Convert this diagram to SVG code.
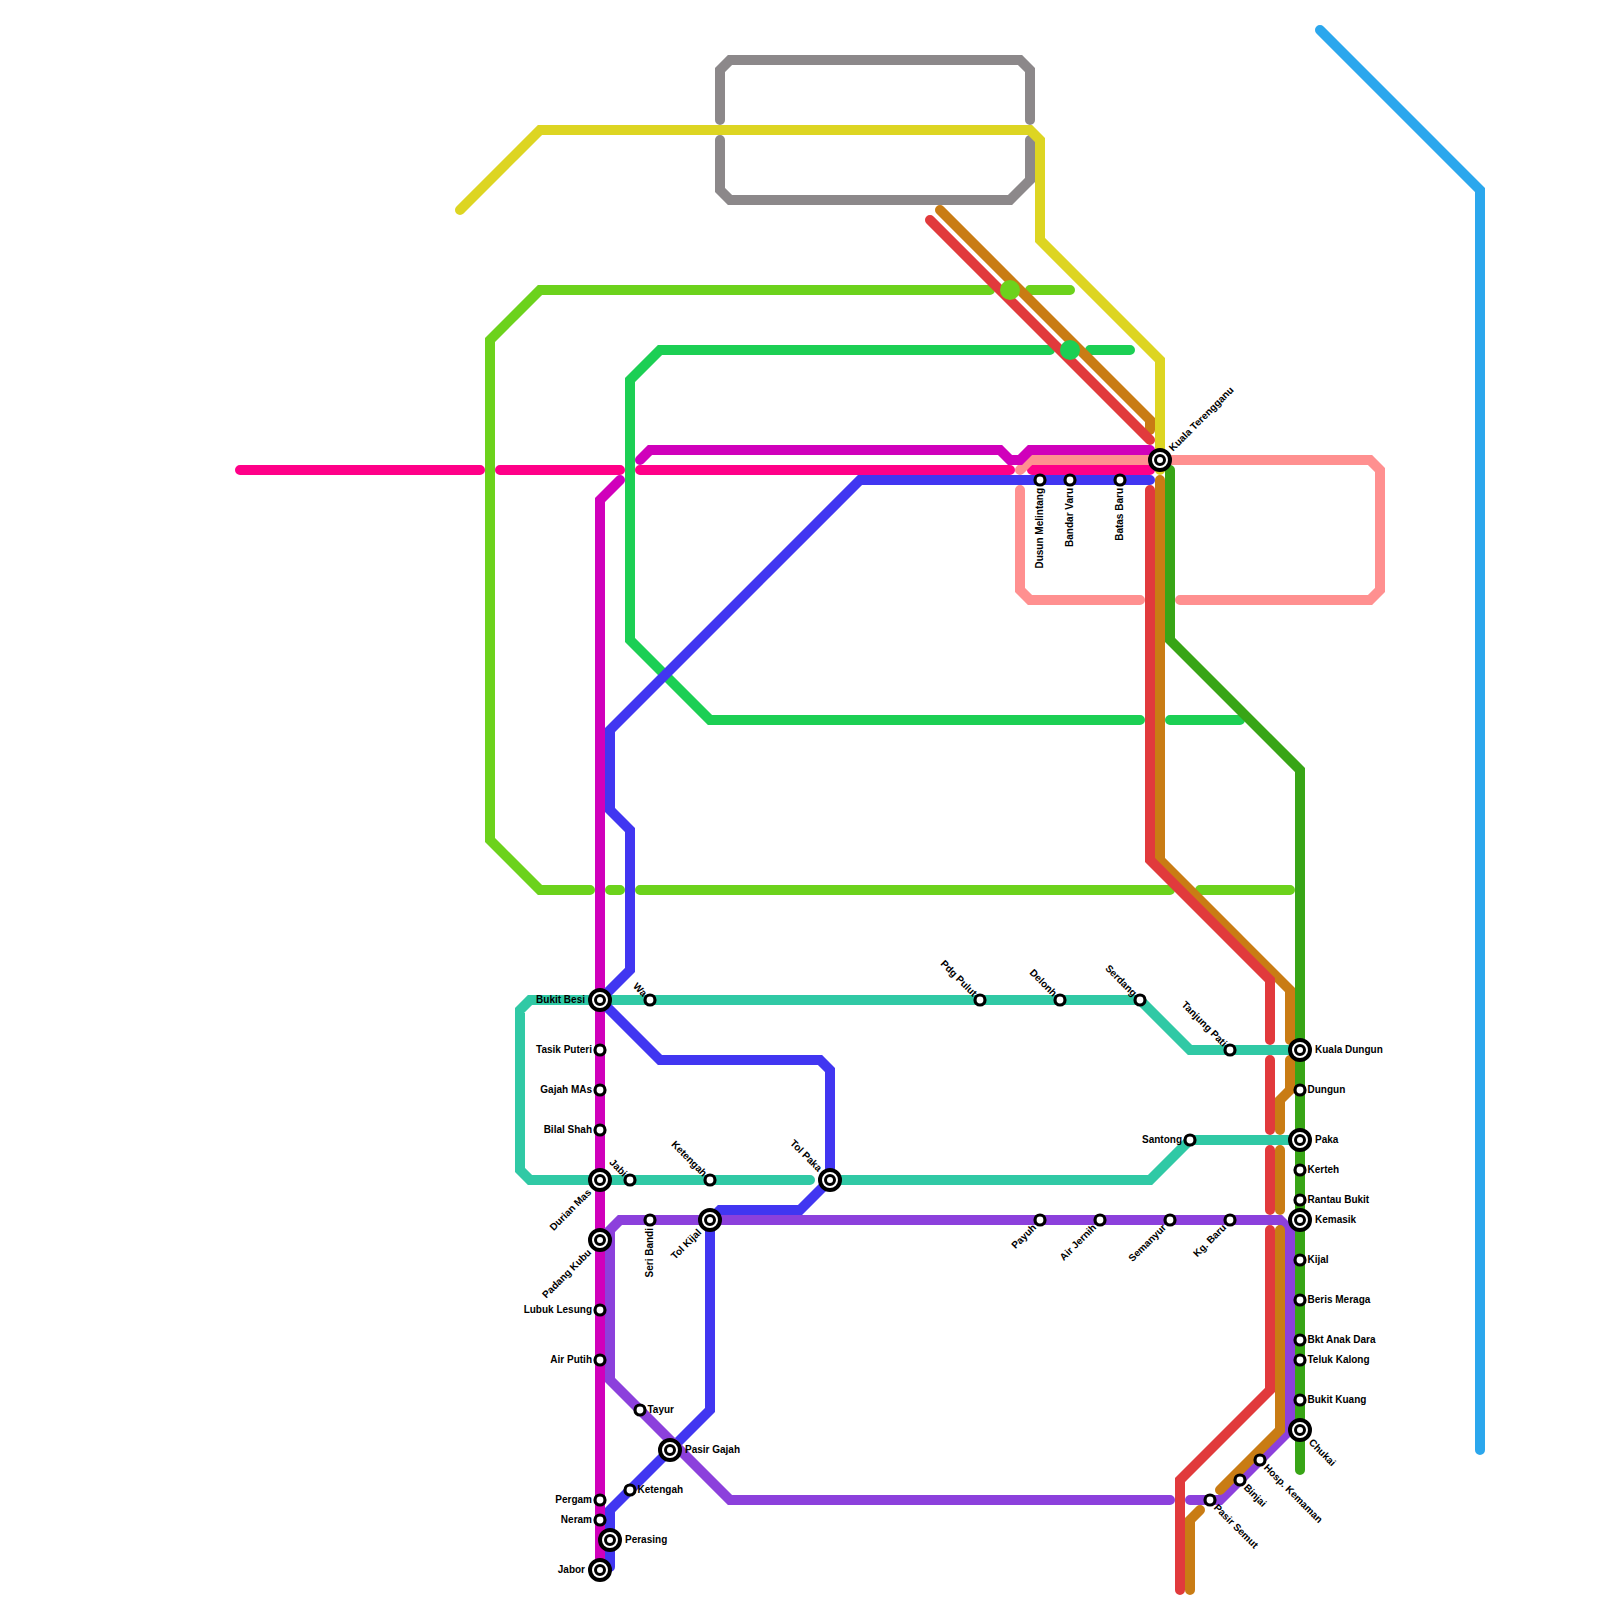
<svg xmlns="http://www.w3.org/2000/svg" width="1600" height="1600" viewBox="0 0 1600 1600">
<style>
.l{fill:none;stroke-width:10;stroke-linecap:round;stroke-linejoin:miter}
.ring1{fill:#fff;stroke:#000;stroke-width:4}
.ring2{fill:#fff;stroke:#000;stroke-width:3}
.small{fill:#fff;stroke:#000;stroke-width:3.2}
text{font-family:"Liberation Sans",Arial,sans-serif;font-size:10px;font-weight:bold;fill:#000}
.e{text-anchor:end}
</style>
<rect width="1600" height="1600" fill="#fff"/>
<g id="connectors">
<path class="l" stroke="#2ba7ed" d="M1320 30L1480 190V1450"/>
<path class="l" stroke="#8c888a" d="M720 120V70L730 60H1020L1030 70V120M720 140V190L730 200H1010L1030 180V140"/>
<path class="l" stroke="#30c9a5" d="M810 1180H530L520 1170V1010L530 1000H1140L1190 1050H1300M830 1180H1150L1190 1140H1300"/>
<path class="l" stroke="#ddd522" d="M460 210L540 130H1030L1040 140V240L1160 360V470"/>
<path class="l" stroke="#6cd21c" d="M990 290H540L490 340V840L540 890H590M610 890H620M640 890H1170M1200 890H1290M1030 290H1070"/>
<path class="l" stroke="#1ccf54" d="M1050 350H660L630 380V640L710 720H1140M1170 720H1240M1090 350H1130"/>
<path class="l" stroke="#ff0088" d="M240 470H480M500 470H620M640 470H1010M1032 470H1150"/>
<path class="l" stroke="#ff9090" d="M1020 470L1030 460H1150M1170 460H1370L1380 470V590L1370 600H1180M1020 490V590L1030 600H1140"/>
<path class="l" stroke="#d000bb" d="M620 480L600 500V1570M640 460L650 450H1000L1010 460H1020L1030 450H1150"/>
<path class="l" stroke="#4136f1" d="M1150 480H860L610 730V810L630 830V970L600 1000L660 1060H820L830 1070V1180L800 1210H720L710 1220V1410L610 1510V1567"/>
<path class="l" stroke="#8c40dc" d="M600 1240L610 1230L620 1220H1280L1290 1230V1430L1220 1500H1190M1170 1500H730L610 1380V1230"/>
<path class="l" stroke="#38a516" d="M1170 470V640L1300 770V1470"/>
<path class="l" stroke="#c97c14" d="M940 210L1150 420V430M1160 480V860L1290 990V1040M1290 1060V1090L1280 1100V1130M1280 1150V1210M1280 1230V1430L1220 1490M1190 1590V1520L1200 1510"/>
<path class="l" stroke="#e13a3c" d="M930 220L1150 440M1150 490V860L1270 980V1040M1270 1060V1130M1270 1150V1210M1270 1230V1390L1180 1480V1590"/>
<circle cx="1010" cy="290" r="10" fill="#6cd21c"/>
<circle cx="1070" cy="350" r="10" fill="#1ccf54"/>
</g>
<g id="kuala-terengganu" transform="translate(1160 460)"><circle class="ring1" r="10"/><circle class="ring2" r="4.5"/><text x="15" y="3.5" transform="rotate(-45)">Kuala Terengganu</text></g>
<g id="dusun-melintang" transform="translate(1040 480)"><circle class="small" r="5"/><text class="e" x="-8" y="3" transform="rotate(-90)">Dusun Melintang</text></g>
<g id="bandar-varu" transform="translate(1070 480)"><circle class="small" r="5"/><text class="e" x="-8" y="3" transform="rotate(-90)">Bandar Varu</text></g>
<g id="batas-baru" transform="translate(1120 480)"><circle class="small" r="5"/><text class="e" x="-8" y="3" transform="rotate(-90)">Batas Baru</text></g>
<g id="bukit-besi" transform="translate(600 1000)"><circle class="ring1" r="10"/><circle class="ring2" r="4.5"/><text class="e" x="-15" y="3">Bukit Besi</text></g>
<g id="tasik-puteri" transform="translate(600 1050)"><circle class="small" r="5"/><text class="e" x="-8" y="3">Tasik Puteri</text></g>
<g id="gajah-mas" transform="translate(600 1090)"><circle class="small" r="5"/><text class="e" x="-8" y="3">Gajah MAs</text></g>
<g id="bilal-shah" transform="translate(600 1130)"><circle class="small" r="5"/><text class="e" x="-8" y="3">Bilal Shah</text></g>
<g id="durian-mas" transform="translate(600 1180)"><circle class="ring1" r="10"/><circle class="ring2" r="4.5"/><text class="e" x="-15" y="3.5" transform="rotate(-45)">Durian Mas</text></g>
<g id="padang-kubu" transform="translate(600 1240)"><circle class="ring1" r="10"/><circle class="ring2" r="4.5"/><text class="e" x="-15" y="3.5" transform="rotate(-45)">Padang Kubu</text></g>
<g id="lubuk-lesung" transform="translate(600 1310)"><circle class="small" r="5"/><text class="e" x="-8" y="3">Lubuk Lesung</text></g>
<g id="air-putih" transform="translate(600 1360)"><circle class="small" r="5"/><text class="e" x="-8" y="3">Air Putih</text></g>
<g id="pergam" transform="translate(600 1500)"><circle class="small" r="5"/><text class="e" x="-8" y="3">Pergam</text></g>
<g id="neram" transform="translate(600 1520)"><circle class="small" r="5"/><text class="e" x="-8" y="3">Neram</text></g>
<g id="perasing" transform="translate(610 1540)"><circle class="ring1" r="10"/><circle class="ring2" r="4.5"/><text x="15" y="3">Perasing</text></g>
<g id="jabor" transform="translate(600 1570)"><circle class="ring1" r="10"/><circle class="ring2" r="4.5"/><text class="e" x="-15" y="3">Jabor</text></g>
<g id="wa" transform="translate(650 1000)"><circle class="small" r="5"/><text class="e" x="-7" y="3" transform="rotate(45)">Wa</text></g>
<g id="jabi" transform="translate(630 1180)"><circle class="small" r="5"/><text class="e" x="-7" y="3" transform="rotate(45)">Jabi</text></g>
<g id="ketengah-a" transform="translate(710 1180)"><circle class="small" r="5"/><text class="e" x="-7" y="3" transform="rotate(45)">Ketengah</text></g>
<g id="tol-paka" transform="translate(830 1180)"><circle class="ring1" r="10"/><circle class="ring2" r="4.5"/><text class="e" x="-14" y="3" transform="rotate(45)">Tol Paka</text></g>
<g id="tol-kijal" transform="translate(710 1220)"><circle class="ring1" r="10"/><circle class="ring2" r="4.5"/><text class="e" x="-15" y="3.5" transform="rotate(-45)">Tol Kijal</text></g>
<g id="seri-bandi" transform="translate(650 1220)"><circle class="small" r="5"/><text class="e" x="-8" y="3" transform="rotate(-90)">Seri Bandi</text></g>
<g id="tayur" transform="translate(640 1410)"><circle class="small" r="5"/><text x="7.5" y="3">Tayur</text></g>
<g id="pasir-gajah" transform="translate(670 1450)"><circle class="ring1" r="10"/><circle class="ring2" r="4.5"/><text x="15" y="3">Pasir Gajah</text></g>
<g id="ketengah-b" transform="translate(630 1490)"><circle class="small" r="5"/><text x="7.5" y="3">Ketengah</text></g>
<g id="pdg-pulut" transform="translate(980 1000)"><circle class="small" r="5"/><text class="e" x="-7" y="3" transform="rotate(45)">Pdg Pulut</text></g>
<g id="delonh" transform="translate(1060 1000)"><circle class="small" r="5"/><text class="e" x="-7" y="3" transform="rotate(45)">Delonh</text></g>
<g id="serdang" transform="translate(1140 1000)"><circle class="small" r="5"/><text class="e" x="-7" y="3" transform="rotate(45)">Serdang</text></g>
<g id="tanjung-pati" transform="translate(1230 1050)"><circle class="small" r="5"/><text class="e" x="-7" y="3" transform="rotate(45)">Tanjung Pati</text></g>
<g id="santong" transform="translate(1190 1140)"><circle class="small" r="5"/><text class="e" x="-8" y="3">Santong</text></g>
<g id="payuh" transform="translate(1040 1220)"><circle class="small" r="5"/><text class="e" x="-8" y="3.5" transform="rotate(-45)">Payuh</text></g>
<g id="air-jernih" transform="translate(1100 1220)"><circle class="small" r="5"/><text class="e" x="-8" y="3.5" transform="rotate(-45)">Air Jernih</text></g>
<g id="semanyur" transform="translate(1170 1220)"><circle class="small" r="5"/><text class="e" x="-8" y="3.5" transform="rotate(-45)">Semanyur</text></g>
<g id="kg-baru" transform="translate(1230 1220)"><circle class="small" r="5"/><text class="e" x="-8" y="3.5" transform="rotate(-45)">Kg. Baru</text></g>
<g id="kuala-dungun" transform="translate(1300 1050)"><circle class="ring1" r="10"/><circle class="ring2" r="4.5"/><text x="15" y="3">Kuala Dungun</text></g>
<g id="dungun" transform="translate(1300 1090)"><circle class="small" r="5"/><text x="7.5" y="3">Dungun</text></g>
<g id="paka" transform="translate(1300 1140)"><circle class="ring1" r="10"/><circle class="ring2" r="4.5"/><text x="15" y="3">Paka</text></g>
<g id="kerteh" transform="translate(1300 1170)"><circle class="small" r="5"/><text x="7.5" y="3">Kerteh</text></g>
<g id="rantau-bukit" transform="translate(1300 1200)"><circle class="small" r="5"/><text x="7.5" y="3">Rantau Bukit</text></g>
<g id="kemasik" transform="translate(1300 1220)"><circle class="ring1" r="10"/><circle class="ring2" r="4.5"/><text x="15" y="3">Kemasik</text></g>
<g id="kijal" transform="translate(1300 1260)"><circle class="small" r="5"/><text x="7.5" y="3">Kijal</text></g>
<g id="beris-meraga" transform="translate(1300 1300)"><circle class="small" r="5"/><text x="7.5" y="3">Beris Meraga</text></g>
<g id="bkt-anak-dara" transform="translate(1300 1340)"><circle class="small" r="5"/><text x="7.5" y="3">Bkt Anak Dara</text></g>
<g id="teluk-kalong" transform="translate(1300 1360)"><circle class="small" r="5"/><text x="7.5" y="3">Teluk Kalong</text></g>
<g id="bukit-kuang" transform="translate(1300 1400)"><circle class="small" r="5"/><text x="7.5" y="3">Bukit Kuang</text></g>
<g id="chukai" transform="translate(1300 1430)"><circle class="ring1" r="10"/><circle class="ring2" r="4.5"/><text x="15" y="3.5" transform="rotate(45)">Chukai</text></g>
<g id="hosp-kemaman" transform="translate(1260 1460)"><circle class="small" r="5"/><text x="8" y="3.5" transform="rotate(45)">Hosp. Kemaman</text></g>
<g id="binjai" transform="translate(1240 1480)"><circle class="small" r="5"/><text x="8" y="3.5" transform="rotate(45)">Binjai</text></g>
<g id="pasir-semut" transform="translate(1210 1500)"><circle class="small" r="5"/><text x="8" y="3.5" transform="rotate(45)">Pasir Semut</text></g>
</svg>
